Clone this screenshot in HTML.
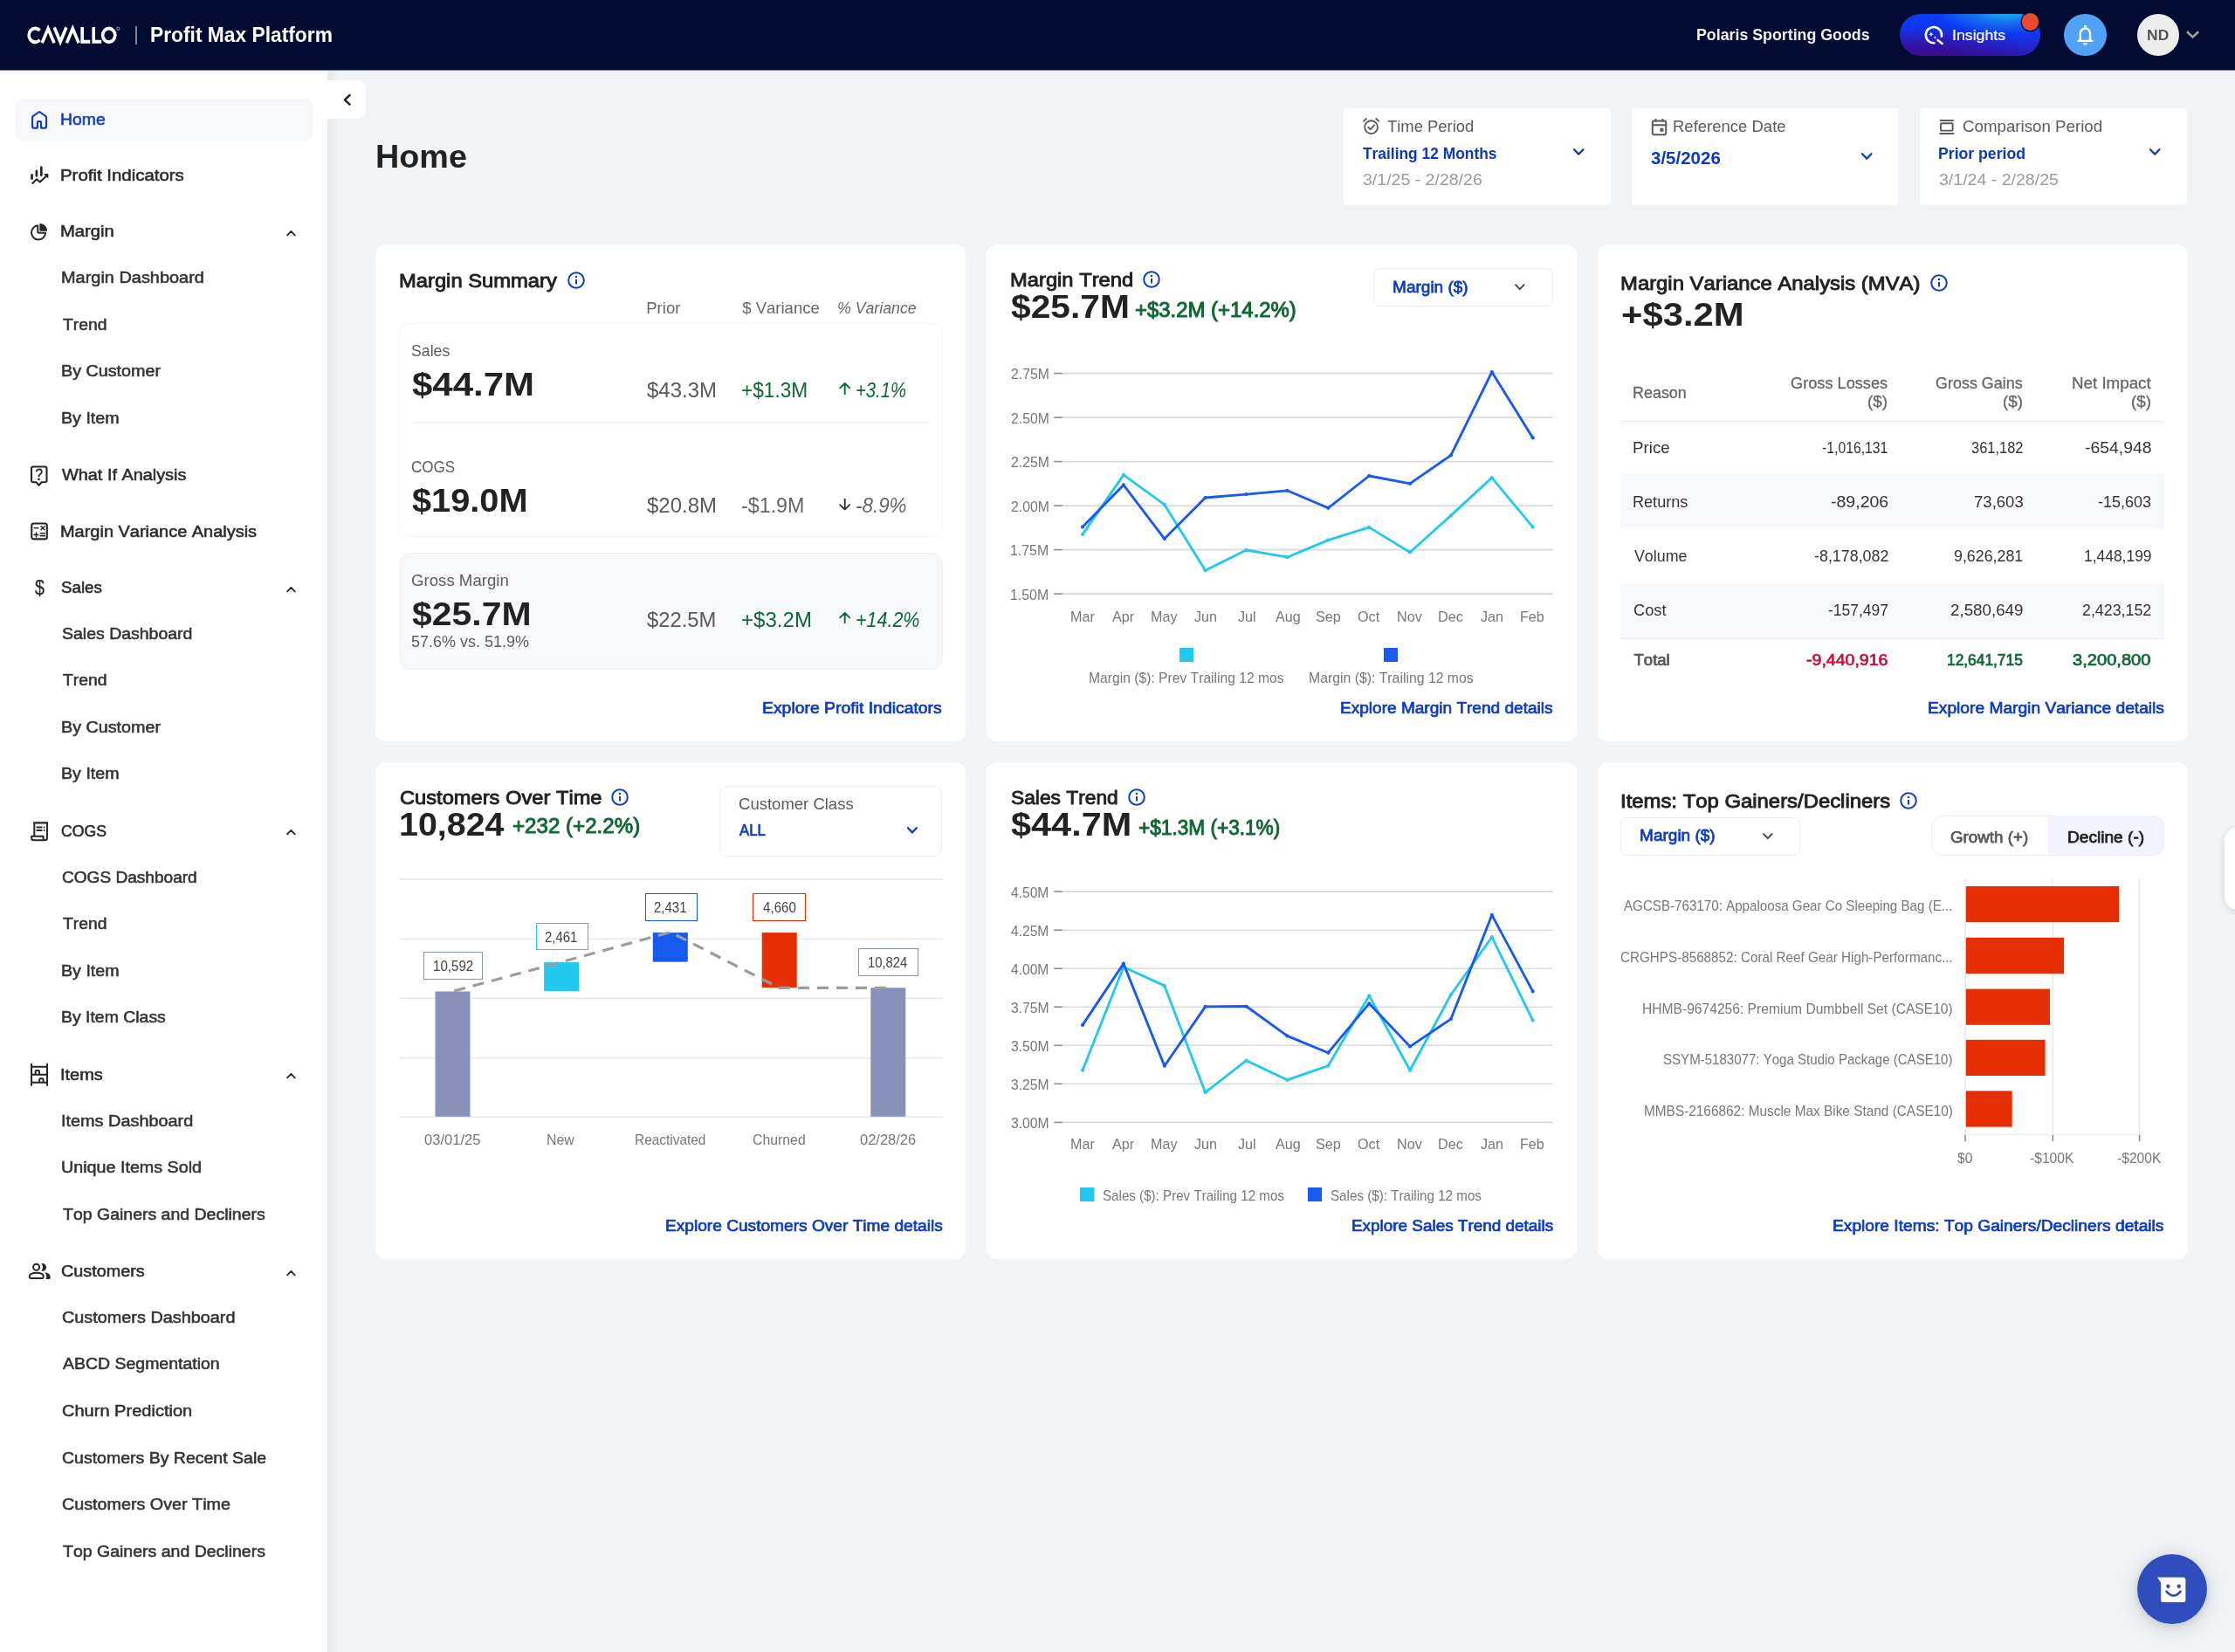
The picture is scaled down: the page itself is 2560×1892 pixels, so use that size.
<!DOCTYPE html>
<html lang="en"><head><meta charset="utf-8"><title>Home - Profit Max Platform</title>
<style>
html,body{margin:0;padding:0;}
body{width:2560px;height:1892px;overflow:hidden;background:#f0f4f7;position:relative;
font-family:"Liberation Sans",sans-serif;font-kerning:none;-webkit-font-smoothing:antialiased;}
.t{position:absolute;white-space:nowrap;margin:0;padding:0;transform-origin:0 50%;}
.b{position:absolute;box-sizing:border-box;display:block;}
.g{position:absolute;left:0;top:0;width:0;height:0;margin:0;padding:0;}
#w{position:absolute;left:0;top:0;width:2560px;height:1892px;will-change:transform;}
</style></head><body><div id="w">
<header class="g" aria-label="Top bar">
<div class="b" style="left:0.00px;top:0.00px;width:2560.00px;height:80.00px;background:#020c33;"></div>
<svg class="b" preserveAspectRatio="none" style="left:31.00px;top:31.30px;overflow:visible;" width="110" height="18.7" viewBox="0 0 110 17"><g fill="none" stroke="#ffffff" stroke-width="3.6" stroke-linecap="butt" stroke-linejoin="miter">
<path d="M14.6 3.6 A7.2 7.2 0 1 0 14.6 13.4"/>
<path d="M17.2 16.6 L24.1 1.6 L31 16.6"/>
<path d="M31.2 0.4 L38.1 15.4 L45 0.4"/>
<path d="M45.4 16.6 L52.3 1.6 L59.2 16.6"/>
<path d="M63.2 0 L63.2 15.2 L72.2 15.2"/>
<path d="M76.2 0 L76.2 15.2 L85.2 15.2"/>
<circle cx="93.7" cy="8.5" r="7.1"/>
</g>
<circle cx="104.3" cy="1.6" r="1.6" fill="none" stroke="#cfd3df" stroke-width="0.7"/></svg>
<div class="b" style="left:155.30px;top:29.50px;width:1.60px;height:21.50px;background:#7b8194;"></div>
<div class="t " style="left:172.20px;top:29.00px;font-size:23.00px;line-height:23.00px;color:#ffffff;transform:scaleX(0.9907);font-weight:700;">Profit Max Platform</div>
<div class="t " style="left:1942.93px;top:31.00px;font-size:18.70px;line-height:18.70px;color:#f2f2f2;transform:scaleX(0.9514);font-weight:700;">Polaris Sporting Goods</div>
<div class="b" style="left:2176.00px;top:16.00px;width:161.00px;height:48.00px;border-radius:24px;background:radial-gradient(ellipse 80px 26px at 122px -3px,#1cc0f0 0%,rgba(26,150,240,0.65) 45%,rgba(20,90,245,0) 100%),radial-gradient(ellipse 130px 44px at 30px 56px,#400a84 0%,rgba(56,12,150,0.8) 45%,rgba(30,30,220,0) 100%),linear-gradient(178deg,#0b3cf6 0%,#0f38f2 50%,#2424c8 85%,#2c1cb4 100%);"></div>
<svg class="b" preserveAspectRatio="none" style="left:2201.00px;top:28.80px;" width="28" height="26" viewBox="0 0 28 26"><g fill="none" stroke="#fff" stroke-width="2.6" stroke-linecap="round">
<path d="M22.9 12.6 A9.1 9.1 0 1 0 14.4 20.2"/>
<path d="M18.6 16.9 L23.7 20.9"/>
</g>
<path fill="#fff" d="M10.9 7.4 L11.7 9.4 L13.7 10.2 L11.7 11 L10.9 13 L10.1 11 L8.1 10.2 L10.1 9.4 Z"/>
<path fill="#fff" d="M15.5 12.3 L16 13.5 L17.2 14 L16 14.5 L15.5 15.7 L15 14.5 L13.8 14 L15 13.5 Z"/></svg>
<div class="t " style="left:2236.17px;top:32.00px;font-size:17.10px;line-height:17.10px;color:#ffffff;transform:scaleX(1.0363);-webkit-text-stroke:0.20px #ffffff;">Insights</div>
<div class="b" style="left:2315.60px;top:15.00px;width:19.60px;height:19.60px;background:#e94a2e;border-radius:10px;box-shadow:0 0 0 1.4px rgba(2,12,51,0.85);"></div>
<div class="b" style="left:2364.00px;top:16.00px;width:48.80px;height:48.00px;background:#4fa2f5;border-radius:24.4px;"></div>
<svg class="b" preserveAspectRatio="none" style="left:2376.00px;top:27.00px;" width="26" height="26" viewBox="0 0 26 26"><g fill="none" stroke="#fff" stroke-width="2.4">
<path d="M6.8 19.9 V11.1 A5.6 5.6 0 0 1 18 11.1 V19.9"/>
<path d="M4.5 19.9 H20.3" stroke-linecap="round"/></g>
<path fill="#fff" d="M11 2.1 h2.8 v2.6 h-2.8z M9.8 22.2 H15 A2.6 2.3 0 0 1 9.8 22.2 Z"/></svg>
<div class="b" style="left:2447.80px;top:16.00px;width:47.90px;height:48.00px;background:#ededed;border-radius:24px;"></div>
<div class="t " style="left:2458.95px;top:32.00px;font-size:16.20px;line-height:16.20px;color:#555555;transform:scaleX(1.0802);font-weight:700;">ND</div>
<svg class="b" preserveAspectRatio="none" style="left:2502.00px;top:32.00px;" width="20" height="14" viewBox="0 0 20 14"><path d="M3 4.2 L9.6 10.4 L16.2 4.2" fill="none" stroke="#9ba1a8" stroke-width="2.6" stroke-linecap="butt" stroke-linejoin="miter"/></svg>
</header>
<nav class="g" aria-label="Sidebar navigation">
<div class="b" style="left:375.00px;top:80.00px;width:14.00px;height:1812.00px;background:linear-gradient(90deg,rgba(0,0,0,0.045),rgba(0,0,0,0));"></div>
<div class="b" style="left:0.00px;top:80.00px;width:375.00px;height:1812.00px;background:#ffffff;"></div>
<div class="b" style="left:16.50px;top:112.50px;width:342.50px;height:48.00px;background:#f7f8fc;border-radius:9px;"></div>
<div class="b" style="left:375.00px;top:92.40px;width:43.80px;height:43.80px;background:#ffffff;border-radius:0 9px 9px 0;"></div>
<svg class="b" preserveAspectRatio="none" style="left:388.00px;top:104.00px;" width="20" height="22" viewBox="0 0 20 22"><path d="M12.6 5.0 L6.9 10.3 L12.6 15.6" fill="none" stroke="#222" stroke-width="2.4" stroke-linecap="round" stroke-linejoin="round"/></svg>
<div class="t " style="left:69.28px;top:128.00px;font-size:18.80px;line-height:18.80px;color:#0f3cc6;transform:scaleX(1.0329);-webkit-text-stroke:0.55px #0f3cc6;">Home</div>
<svg class="b" preserveAspectRatio="none" style="left:34.00px;top:125.00px;" width="28" height="28" viewBox="0 0 28 28"><path d="M8.9 21.6 H4.6 Q3.07 21.6 3.07 20.1 V9.5 Q3.07 8.7 3.7 8.2 L10.2 3.5 Q11.05 2.95 11.9 3.5 L18.4 8.2 Q19.05 8.7 19.05 9.5 V20.1 Q19.05 21.6 17.5 21.6 H13.1 V15.2 Q13.1 14.1 12 14.1 H10 Q8.9 14.1 8.9 15.2 Z" fill="none" stroke="#0f3cc6" stroke-width="2.15" stroke-linejoin="round"/></svg>
<div class="t " style="left:69.20px;top:192.00px;font-size:18.80px;line-height:18.80px;color:#2b2b2b;transform:scaleX(1.0869);-webkit-text-stroke:0.55px #2b2b2b;">Profit Indicators</div>
<svg class="b" preserveAspectRatio="none" style="left:34.00px;top:188.00px;" width="28" height="28" viewBox="0 0 28 28"><g fill="none" stroke="#262626" stroke-linecap="round" stroke-linejoin="round">
<path stroke-width="2.7" d="M2.53 12.3 V16.6 M7.9 7.9 V13.3 M13.3 3.7 V12.7"/>
<path stroke-width="2.05" d="M3.3 22.0 L7.98 17.3 L11.75 20.4 L19.2 13.4"/></g>
<path d="M15.9 11.1 H21.3 V16.5 Z" fill="#262626"/></svg>
<div class="t " style="left:69.21px;top:256.00px;font-size:18.80px;line-height:18.80px;color:#2b2b2b;transform:scaleX(1.0773);-webkit-text-stroke:0.55px #2b2b2b;">Margin</div>
<svg class="b" preserveAspectRatio="none" style="left:34.00px;top:254.00px;" width="28" height="28" viewBox="0 0 28 28"><path d="M9.24 4.25 A8.1 8.1 0 1 0 18.18 12.8" fill="none" stroke="#262626" stroke-width="2"/>
<path d="M9.24 3.5 V11 Q9.24 12.8 11 12.8 H18.9" fill="none" stroke="#262626" stroke-width="2"/>
<path d="M11.4 1.8 A8.9 8.9 0 0 1 20.3 10.7 H11.4 Z" fill="#262626"/></svg>
<svg class="b" preserveAspectRatio="none" style="left:326.00px;top:260.80px;" width="16" height="12" viewBox="0 0 16 12"><path d="M3.1 8.3 L7.4 3.8 L11.7 8.3" fill="none" stroke="#2b2b2b" stroke-width="1.9" stroke-linecap="round" stroke-linejoin="round"/></svg>
<div class="t " style="left:70.34px;top:309.00px;font-size:18.80px;line-height:18.80px;color:#333333;transform:scaleX(1.0608);-webkit-text-stroke:0.55px #333333;">Margin Dashboard</div>
<div class="t " style="left:71.55px;top:363.00px;font-size:18.80px;line-height:18.80px;color:#333333;transform:scaleX(1.0286);-webkit-text-stroke:0.55px #333333;">Trend</div>
<div class="t " style="left:70.35px;top:416.00px;font-size:18.80px;line-height:18.80px;color:#333333;transform:scaleX(1.0509);-webkit-text-stroke:0.55px #333333;">By Customer</div>
<div class="t " style="left:70.36px;top:470.00px;font-size:18.80px;line-height:18.80px;color:#333333;transform:scaleX(1.0457);-webkit-text-stroke:0.55px #333333;">By Item</div>
<div class="t " style="left:70.80px;top:535.00px;font-size:18.80px;line-height:18.80px;color:#2b2b2b;transform:scaleX(1.0576);-webkit-text-stroke:0.55px #2b2b2b;">What If Analysis</div>
<svg class="b" preserveAspectRatio="none" style="left:34.00px;top:532.00px;" width="28" height="28" viewBox="0 0 28 28"><path d="M4 2.55 H17.5 Q19.5 2.55 19.5 4.55 V18.3 Q19.5 20.3 17.5 20.3 H13.6 L10.52 23.7 L7.45 20.3 H4 Q2 20.3 2 18.3 V4.55 Q2 2.55 4 2.55 Z" fill="none" stroke="#262626" stroke-width="2.1" stroke-linejoin="round"/>
<path d="M7.7 7.5 Q8.6 5.4 10.9 5.4 Q13.7 5.5 13.8 8.2 Q13.7 9.9 12.1 11.1 Q10.5 12.3 10.4 13.4" fill="none" stroke="#262626" stroke-width="1.8" stroke-linecap="round"/>
<circle cx="10.5" cy="16.9" r="1.35" fill="#262626"/></svg>
<div class="t " style="left:69.24px;top:600.00px;font-size:18.80px;line-height:18.80px;color:#2b2b2b;transform:scaleX(1.0622);-webkit-text-stroke:0.55px #2b2b2b;">Margin Variance Analysis</div>
<svg class="b" preserveAspectRatio="none" style="left:34.00px;top:597.00px;" width="28" height="28" viewBox="0 0 28 28"><rect x="2.25" y="2.5" width="17.55" height="17.9" rx="2.5" fill="none" stroke="#262626" stroke-width="2.1"/>
<path d="M5.2 7.7 H9.8 M13 5.8 L17 9.8 M17 5.8 L13 9.8 M5 15.4 H10 M7.5 12.9 V17.9 M12.3 13.8 H17.4 M12.3 16.6 H17.4" fill="none" stroke="#262626" stroke-width="1.55" stroke-linecap="round"/></svg>
<div class="t " style="left:70.03px;top:664.00px;font-size:18.80px;line-height:18.80px;color:#2b2b2b;transform:scaleX(0.9966);-webkit-text-stroke:0.55px #2b2b2b;">Sales</div>
<svg class="b" preserveAspectRatio="none" style="left:326.00px;top:668.80px;" width="16" height="12" viewBox="0 0 16 12"><path d="M3.1 8.3 L7.4 3.8 L11.7 8.3" fill="none" stroke="#2b2b2b" stroke-width="1.9" stroke-linecap="round" stroke-linejoin="round"/></svg>
<div class="t " style="left:40.23px;top:661.00px;font-size:24.50px;line-height:24.50px;color:#2b2b2b;transform:scaleX(0.8000);-webkit-text-stroke:0.25px #2b2b2b;">$</div>
<div class="t " style="left:71.10px;top:717.00px;font-size:18.80px;line-height:18.80px;color:#333333;transform:scaleX(1.0371);-webkit-text-stroke:0.55px #333333;">Sales Dashboard</div>
<div class="t " style="left:71.55px;top:770.00px;font-size:18.80px;line-height:18.80px;color:#333333;transform:scaleX(1.0286);-webkit-text-stroke:0.55px #333333;">Trend</div>
<div class="t " style="left:70.35px;top:824.00px;font-size:18.80px;line-height:18.80px;color:#333333;transform:scaleX(1.0509);-webkit-text-stroke:0.55px #333333;">By Customer</div>
<div class="t " style="left:70.36px;top:877.00px;font-size:18.80px;line-height:18.80px;color:#333333;transform:scaleX(1.0457);-webkit-text-stroke:0.55px #333333;">By Item</div>
<div class="t " style="left:69.99px;top:943.00px;font-size:18.80px;line-height:18.80px;color:#2b2b2b;transform:scaleX(0.9398);-webkit-text-stroke:0.55px #2b2b2b;">COGS</div>
<svg class="b" preserveAspectRatio="none" style="left:34.00px;top:939.00px;" width="28" height="28" viewBox="0 0 28 28"><path d="M5.3 18.7 V3.6 H19.95 V20.7 Q19.95 23.2 17.45 23.2 H4.6 Q2.1 23.2 2.1 20.7 V18.7 H15.5 V21 Q15.5 23.2 17.7 23.2" fill="none" stroke="#262626" stroke-width="2" stroke-linejoin="round"/>
<path d="M4.3 4 V2 L5.9 3.1 L7.5 2 L9.2 3.1 L10.9 2 L12.6 3.1 L14.3 2 L16 3.1 L17.7 2 L19.3 3.1 L20.95 2 V4 Z" fill="#262626"/>
<path d="M8.3 8.5 H13.7 M8.3 12 H13.7" stroke="#262626" stroke-width="1.9" stroke-linecap="round" fill="none"/>
<circle cx="16.6" cy="8.5" r="1" fill="#262626"/><circle cx="16.6" cy="12" r="1" fill="#262626"/></svg>
<svg class="b" preserveAspectRatio="none" style="left:326.00px;top:947.30px;" width="16" height="12" viewBox="0 0 16 12"><path d="M3.1 8.3 L7.4 3.8 L11.7 8.3" fill="none" stroke="#2b2b2b" stroke-width="1.9" stroke-linecap="round" stroke-linejoin="round"/></svg>
<div class="t " style="left:71.02px;top:996.00px;font-size:18.80px;line-height:18.80px;color:#333333;transform:scaleX(1.0149);-webkit-text-stroke:0.55px #333333;">COGS Dashboard</div>
<div class="t " style="left:71.55px;top:1049.00px;font-size:18.80px;line-height:18.80px;color:#333333;transform:scaleX(1.0286);-webkit-text-stroke:0.55px #333333;">Trend</div>
<div class="t " style="left:70.36px;top:1103.00px;font-size:18.80px;line-height:18.80px;color:#333333;transform:scaleX(1.0457);-webkit-text-stroke:0.55px #333333;">By Item</div>
<div class="t " style="left:70.38px;top:1156.00px;font-size:18.80px;line-height:18.80px;color:#333333;transform:scaleX(1.0344);-webkit-text-stroke:0.55px #333333;">By Item Class</div>
<div class="t " style="left:69.03px;top:1222.00px;font-size:18.80px;line-height:18.80px;color:#2b2b2b;transform:scaleX(1.0641);-webkit-text-stroke:0.55px #2b2b2b;">Items</div>
<svg class="b" preserveAspectRatio="none" style="left:34.00px;top:1217.00px;" width="28" height="28" viewBox="0 0 28 28"><g fill="none" stroke="#262626" stroke-width="2" stroke-linejoin="round">
<path d="M2.05 1.7 V26 M20 1.7 V26 M2.05 4.74 H20 M2.05 13.87 H20 M2.05 22.7 H20" stroke-linecap="round"/>
<path d="M6.65 13.87 V10.1 Q6.65 9.1 7.65 9.1 H10 Q11 9.1 11 10.1 V13.87 M11.13 22.7 V19.2 Q11.13 18.2 12.13 18.2 H14.6 Q15.6 18.2 15.6 19.2 V22.7"/></g></svg>
<svg class="b" preserveAspectRatio="none" style="left:326.00px;top:1226.00px;" width="16" height="12" viewBox="0 0 16 12"><path d="M3.1 8.3 L7.4 3.8 L11.7 8.3" fill="none" stroke="#2b2b2b" stroke-width="1.9" stroke-linecap="round" stroke-linejoin="round"/></svg>
<div class="t " style="left:70.15px;top:1275.00px;font-size:18.80px;line-height:18.80px;color:#333333;transform:scaleX(1.0573);-webkit-text-stroke:0.55px #333333;">Items Dashboard</div>
<div class="t " style="left:70.46px;top:1328.00px;font-size:18.80px;line-height:18.80px;color:#333333;transform:scaleX(1.0496);-webkit-text-stroke:0.55px #333333;">Unique Items Sold</div>
<div class="t " style="left:71.55px;top:1382.00px;font-size:18.80px;line-height:18.80px;color:#333333;transform:scaleX(1.0374);-webkit-text-stroke:0.55px #333333;">Top Gainers and Decliners</div>
<div class="t " style="left:69.88px;top:1447.00px;font-size:18.80px;line-height:18.80px;color:#2b2b2b;transform:scaleX(1.0546);-webkit-text-stroke:0.55px #2b2b2b;">Customers</div>
<svg class="b" preserveAspectRatio="none" style="left:32.00px;top:1444.00px;" width="28" height="28" viewBox="0 0 28 28"><g fill="none" stroke="#262626" stroke-width="2">
<circle cx="9.62" cy="7.25" r="3.55"/>
<path d="M1.8 17.6 C1.8 15.2 5 13.8 9.75 13.8 C14.5 13.8 17.7 15.2 17.7 17.6 V18.6 Q17.7 20 16.3 20 H3.2 Q1.8 20 1.8 18.6 Z"/></g>
<path d="M15.2 3.1 C18.2 2.4 21 4.6 21 7.4 C21 10.2 18.2 12.4 15.2 11.7 C17.6 9.6 17.6 5.2 15.2 3.1 Z" fill="#262626"/>
<path d="M19.2 13.2 C22.6 13.6 25.6 15.4 25.6 18 V19.4 Q25.6 21 24 21 H20.4 C21.6 19.8 21.8 16 19.2 13.2 Z" fill="#262626"/></svg>
<svg class="b" preserveAspectRatio="none" style="left:326.00px;top:1451.70px;" width="16" height="12" viewBox="0 0 16 12"><path d="M3.1 8.3 L7.4 3.8 L11.7 8.3" fill="none" stroke="#2b2b2b" stroke-width="1.9" stroke-linecap="round" stroke-linejoin="round"/></svg>
<div class="t " style="left:70.98px;top:1500.00px;font-size:18.80px;line-height:18.80px;color:#333333;transform:scaleX(1.0560);-webkit-text-stroke:0.55px #333333;">Customers Dashboard</div>
<div class="t " style="left:71.94px;top:1553.00px;font-size:18.80px;line-height:18.80px;color:#333333;transform:scaleX(1.0367);-webkit-text-stroke:0.55px #333333;">ABCD Segmentation</div>
<div class="t " style="left:70.97px;top:1607.00px;font-size:18.80px;line-height:18.80px;color:#333333;transform:scaleX(1.0665);-webkit-text-stroke:0.55px #333333;">Churn Prediction</div>
<div class="t " style="left:71.00px;top:1661.00px;font-size:18.80px;line-height:18.80px;color:#333333;transform:scaleX(1.0381);-webkit-text-stroke:0.55px #333333;">Customers By Recent Sale</div>
<div class="t " style="left:70.99px;top:1714.00px;font-size:18.80px;line-height:18.80px;color:#333333;transform:scaleX(1.0504);-webkit-text-stroke:0.55px #333333;">Customers Over Time</div>
<div class="t " style="left:71.55px;top:1768.00px;font-size:18.80px;line-height:18.80px;color:#333333;transform:scaleX(1.0383);-webkit-text-stroke:0.55px #333333;">Top Gainers and Decliners</div>
<div class="b" style="left:0.00px;top:80.00px;width:2560.00px;height:1.00px;background:#7b8298;"></div>
</nav>
<main class="g">
<div class="g" aria-label="Page header and filters">
<div class="t " style="left:429.91px;top:161.00px;font-size:37.50px;line-height:37.50px;color:#222222;transform:scaleX(1.0067);font-weight:700;">Home</div>
<div class="b" style="left:1538.90px;top:124.20px;width:306.50px;height:110.80px;background:#ffffff;border-radius:4.5px;"></div>
<div class="b" style="left:1868.70px;top:124.20px;width:306.50px;height:110.80px;background:#ffffff;border-radius:4.5px;"></div>
<div class="b" style="left:2198.60px;top:124.20px;width:306.50px;height:110.80px;background:#ffffff;border-radius:4.5px;"></div>
<svg class="b" preserveAspectRatio="none" style="left:1560.30px;top:134.20px;" width="22" height="21" viewBox="0 0 22 21"><g fill="none" stroke="#5a5a5a" stroke-width="1.9" stroke-linecap="round" stroke-linejoin="round">
<circle cx="10.6" cy="11.6" r="7.4"/><path d="M7.2 11.8 L9.8 14.2 L14.2 9.4"/><path d="M2 4.6 L5 2 M19.2 4.6 L16.2 2"/></g></svg>
<div class="t " style="left:1588.69px;top:136.00px;font-size:18.60px;line-height:18.60px;color:#5a5a5a;transform:scaleX(0.9902);">Time Period</div>
<div class="t " style="left:1561.41px;top:167.00px;font-size:18.60px;line-height:18.60px;color:#0c38c6;transform:scaleX(0.9341);font-weight:700;">Trailing 12 Months</div>
<div class="t " style="left:1560.86px;top:197.00px;font-size:18.80px;line-height:18.80px;color:#9b9b9b;transform:scaleX(1.0394);">3/1/25 - 2/28/26</div>
<svg class="b" preserveAspectRatio="none" style="left:1799.10px;top:167.20px;" width="18.4" height="14" viewBox="0 0 18.4 14"><path d="M4 4.2 L9.2 9.6 L14.4 4.2" fill="none" stroke="#0f3cc6" stroke-width="2.3" stroke-linecap="round" stroke-linejoin="round"/></svg>
<svg class="b" preserveAspectRatio="none" style="left:1891.40px;top:135.20px;" width="20" height="21" viewBox="0 0 20 21"><g fill="none" stroke="#5a5a5a" stroke-width="2" stroke-linejoin="round">
<rect x="1.8" y="3.6" width="15.4" height="15.6" rx="1.4"/><path d="M1.8 8.2 H17.2 M5.6 1 V4.4 M13.4 1 V4.4"/></g><rect x="10.4" y="11.8" width="4" height="4" rx="0.6" fill="#5a5a5a"/></svg>
<div class="t " style="left:1916.38px;top:136.00px;font-size:18.60px;line-height:18.60px;color:#5a5a5a;transform:scaleX(0.9951);">Reference Date</div>
<div class="t " style="left:1890.65px;top:171.00px;font-size:20.00px;line-height:20.00px;color:#0c38c6;transform:scaleX(1.0247);font-weight:700;">3/5/2026</div>
<svg class="b" preserveAspectRatio="none" style="left:2129.00px;top:172.10px;" width="18.4" height="14" viewBox="0 0 18.4 14"><path d="M4 4.2 L9.2 9.6 L14.4 4.2" fill="none" stroke="#0f3cc6" stroke-width="2.3" stroke-linecap="round" stroke-linejoin="round"/></svg>
<svg class="b" preserveAspectRatio="none" style="left:2221.20px;top:136.20px;" width="21" height="20" viewBox="0 0 21 20"><g fill="none" stroke="#5a5a5a" stroke-width="1.9" stroke-linejoin="round">
<rect x="2" y="5.2" width="13.6" height="8.4" rx="0.8"/><path d="M1.6 2 H16 M1.2 17 H16.4" stroke-linecap="round"/></g></svg>
<div class="t " style="left:2247.56px;top:136.00px;font-size:18.60px;line-height:18.60px;color:#5a5a5a;transform:scaleX(1.0065);">Comparison Period</div>
<div class="t " style="left:2220.14px;top:167.00px;font-size:18.60px;line-height:18.60px;color:#0c38c6;transform:scaleX(0.9489);font-weight:700;">Prior period</div>
<div class="t " style="left:2220.56px;top:197.00px;font-size:18.80px;line-height:18.80px;color:#9b9b9b;transform:scaleX(1.0406);">3/1/24 - 2/28/25</div>
<svg class="b" preserveAspectRatio="none" style="left:2458.80px;top:167.20px;" width="18.4" height="14" viewBox="0 0 18.4 14"><path d="M4 4.2 L9.2 9.6 L14.4 4.2" fill="none" stroke="#0f3cc6" stroke-width="2.3" stroke-linecap="round" stroke-linejoin="round"/></svg>
</div>
<section class="g" aria-label="Margin Summary">
<div class="b" style="left:430.00px;top:280.00px;width:676.00px;height:569.00px;background:#ffffff;border-radius:12px;"></div>
<div class="t " style="left:456.79px;top:311.00px;font-size:22.00px;line-height:22.00px;color:#222222;transform:scaleX(1.0796);-webkit-text-stroke:0.88px #222222;">Margin Summary</div>
<svg class="b" preserveAspectRatio="none" style="left:648.70px;top:310.00px;" width="22" height="22" viewBox="0 0 22 22"><circle cx="11" cy="11" r="8.8" fill="none" stroke="#0f3cc6" stroke-width="2"/><rect x="10" y="9.9" width="2" height="5.6" fill="#0f3cc6"/><circle cx="11" cy="7.1" r="1.25" fill="#0f3cc6"/></svg>
<div class="t " style="left:740.28px;top:344.00px;font-size:18.50px;line-height:18.50px;color:#666666;">Prior</div>
<div class="t " style="left:850.31px;top:344.00px;font-size:18.50px;line-height:18.50px;color:#666666;">$ Variance</div>
<div class="t " style="left:958.54px;top:344.00px;font-size:18.50px;line-height:18.50px;color:#666666;transform:scaleX(0.9576);font-style:italic;">% Variance</div>
<div class="b" style="left:457.10px;top:370.30px;width:622.60px;height:245.00px;background:#ffffff;border:1.5px solid #f4f5f9;border-radius:13px;"></div>
<div class="b" style="left:471.00px;top:483.30px;width:593.60px;height:1.40px;background:#f5f6f9;"></div>
<div class="b" style="left:457.10px;top:632.90px;width:622.60px;height:134.40px;background:#f7f8fc;border:1.5px solid #f0f2f8;border-radius:13px;"></div>
<div class="t " style="left:471.40px;top:393.00px;font-size:18.50px;line-height:18.50px;color:#5c5c5c;transform:scaleX(0.9580);">Sales</div>
<div class="t " style="left:471.95px;top:422.00px;font-size:37.50px;line-height:37.50px;color:#222222;transform:scaleX(1.1202);font-weight:700;">$44.7M</div>
<div class="t " style="left:740.96px;top:436.00px;font-size:23.50px;line-height:23.50px;color:#5a5a5a;transform:scaleX(1.0207);">$43.3M</div>
<div class="t " style="left:849.41px;top:436.00px;font-size:23.50px;line-height:23.50px;color:#0f6833;transform:scaleX(0.9647);">+$1.3M</div>
<svg class="b" preserveAspectRatio="none" style="left:960.70px;top:438.40px;" width="13.4" height="13.6" viewBox="0 0 13.4 13.6"><path d="M6.7 13.2 V1.2 M1.2 6.4 L6.7 1 L12.2 6.4" fill="none" stroke="#0f6833" stroke-width="1.9" stroke-linecap="round" stroke-linejoin="round"/></svg>
<div class="t " style="left:979.82px;top:436.00px;font-size:23.50px;line-height:23.50px;color:#0f6833;transform:scaleX(0.8624);font-style:italic;">+3.1%</div>
<div class="t " style="left:471.35px;top:526.00px;font-size:18.50px;line-height:18.50px;color:#5c5c5c;transform:scaleX(0.9199);">COGS</div>
<div class="t " style="left:471.98px;top:555.00px;font-size:37.50px;line-height:37.50px;color:#222222;transform:scaleX(1.0596);font-weight:700;">$19.0M</div>
<div class="t " style="left:740.96px;top:568.00px;font-size:23.50px;line-height:23.50px;color:#5a5a5a;transform:scaleX(1.0207);">$20.8M</div>
<div class="t " style="left:849.48px;top:568.00px;font-size:23.50px;line-height:23.50px;color:#666666;transform:scaleX(0.9903);">-$1.9M</div>
<svg class="b" preserveAspectRatio="none" style="left:960.70px;top:570.50px;" width="13.4" height="13.6" viewBox="0 0 13.4 13.6"><path d="M6.7 0.4 V12.4 M1.2 7.2 L6.7 12.6 L12.2 7.2" fill="none" stroke="#333333" stroke-width="1.9" stroke-linecap="round" stroke-linejoin="round"/></svg>
<div class="t " style="left:979.96px;top:568.00px;font-size:23.50px;line-height:23.50px;color:#666666;transform:scaleX(0.9527);font-style:italic;">-8.9%</div>
<div class="t " style="left:471.27px;top:656.00px;font-size:18.50px;line-height:18.50px;color:#5c5c5c;transform:scaleX(1.0072);">Gross Margin</div>
<div class="t " style="left:471.97px;top:685.00px;font-size:37.50px;line-height:37.50px;color:#222222;transform:scaleX(1.0916);font-weight:700;">$25.7M</div>
<div class="t " style="left:471.48px;top:726.00px;font-size:18.50px;line-height:18.50px;color:#5c5c5c;transform:scaleX(0.9721);">57.6% vs. 51.9%</div>
<div class="t " style="left:740.96px;top:699.00px;font-size:23.50px;line-height:23.50px;color:#5a5a5a;transform:scaleX(1.0128);">$22.5M</div>
<div class="t " style="left:849.35px;top:699.00px;font-size:23.50px;line-height:23.50px;color:#0f6833;transform:scaleX(1.0239);">+$3.2M</div>
<svg class="b" preserveAspectRatio="none" style="left:960.70px;top:700.60px;" width="13.4" height="13.6" viewBox="0 0 13.4 13.6"><path d="M6.7 13.2 V1.2 M1.2 6.4 L6.7 1 L12.2 6.4" fill="none" stroke="#0f6833" stroke-width="1.9" stroke-linecap="round" stroke-linejoin="round"/></svg>
<div class="t " style="left:979.75px;top:699.00px;font-size:23.50px;line-height:23.50px;color:#0f6833;transform:scaleX(0.9142);font-style:italic;">+14.2%</div>
<div class="t " style="left:873.48px;top:802.00px;font-size:18.50px;line-height:18.50px;color:#0f3cc6;transform:scaleX(1.0476);-webkit-text-stroke:0.74px #0f3cc6;">Explore Profit Indicators</div>
</section>
<section class="g" aria-label="Margin Trend">
<div class="b" style="left:1130.00px;top:280.00px;width:676.00px;height:569.00px;background:#ffffff;border-radius:12px;"></div>
<div class="t " style="left:1156.79px;top:310.00px;font-size:22.00px;line-height:22.00px;color:#222222;transform:scaleX(1.0792);-webkit-text-stroke:0.88px #222222;">Margin Trend</div>
<svg class="b" preserveAspectRatio="none" style="left:1307.70px;top:308.50px;" width="22" height="22" viewBox="0 0 22 22"><circle cx="11" cy="11" r="8.8" fill="none" stroke="#0f3cc6" stroke-width="2"/><rect x="10" y="9.9" width="2" height="5.6" fill="#0f3cc6"/><circle cx="11" cy="7.1" r="1.25" fill="#0f3cc6"/></svg>
<div class="t " style="left:1157.77px;top:333.00px;font-size:37.20px;line-height:37.20px;color:#222222;transform:scaleX(1.0954);font-weight:700;">$25.7M</div>
<div class="t " style="left:1300.31px;top:344.00px;font-size:23.00px;line-height:23.00px;color:#0f6833;transform:scaleX(1.0400);-webkit-text-stroke:0.92px #0f6833;">+$3.2M (+14.2%)</div>
<div class="b" style="left:1573.20px;top:306.50px;width:205.60px;height:44.00px;background:#ffffff;border:1.5px solid #eceef2;border-radius:8px;"></div>
<div class="t " style="left:1595.12px;top:319.00px;font-size:19.00px;line-height:19.00px;color:#0f3cc6;-webkit-text-stroke:0.76px #0f3cc6;">Margin ($)</div>
<svg class="b" preserveAspectRatio="none" style="left:1732.40px;top:321.60px;" width="17.6" height="13.6" viewBox="0 0 17.6 13.6"><path d="M4 4.2 L8.8 9.2 L13.6 4.2" fill="none" stroke="#444444" stroke-width="1.9" stroke-linecap="round" stroke-linejoin="round"/></svg>
<svg class="b" style="left:0;top:0" width="2560" height="1892" viewBox="0 0 2560 1892"><path d="M1216.8 427.6 H1778.8" stroke="#d9d9d9" stroke-width="1.6" fill="none"/><path d="M1207.2 427.6 H1216.8" stroke="#8c8c8c" stroke-width="1.6" fill="none"/><path d="M1216.8 478.1 H1778.8" stroke="#d9d9d9" stroke-width="1.6" fill="none"/><path d="M1207.2 478.1 H1216.8" stroke="#8c8c8c" stroke-width="1.6" fill="none"/><path d="M1216.8 528.6 H1778.8" stroke="#d9d9d9" stroke-width="1.6" fill="none"/><path d="M1207.2 528.6 H1216.8" stroke="#8c8c8c" stroke-width="1.6" fill="none"/><path d="M1216.8 579.1 H1778.8" stroke="#d9d9d9" stroke-width="1.6" fill="none"/><path d="M1207.2 579.1 H1216.8" stroke="#8c8c8c" stroke-width="1.6" fill="none"/><path d="M1216.8 629.6 H1778.8" stroke="#d9d9d9" stroke-width="1.6" fill="none"/><path d="M1207.2 629.6 H1216.8" stroke="#8c8c8c" stroke-width="1.6" fill="none"/><path d="M1216.8 680.1 H1778.8" stroke="#d9d9d9" stroke-width="1.6" fill="none"/><path d="M1207.2 680.1 H1216.8" stroke="#8c8c8c" stroke-width="1.6" fill="none"/><path d="M1240.0 612.1 L1286.9 543.9 L1333.8 577.9 L1380.6 653.2 L1427.5 630.0 L1474.4 638.2 L1521.3 618.6 L1568.2 603.9 L1615.0 632.5 L1661.9 590.4 L1708.8 547.1 L1755.7 603.6" fill="none" stroke="#22c9ee" stroke-width="2.85" stroke-linejoin="round" stroke-linecap="round"/><circle cx="1240.0" cy="612.1" r="2.1" fill="#22c9ee"/><circle cx="1286.9" cy="543.9" r="2.1" fill="#22c9ee"/><circle cx="1333.8" cy="577.9" r="2.1" fill="#22c9ee"/><circle cx="1380.6" cy="653.2" r="2.1" fill="#22c9ee"/><circle cx="1427.5" cy="630.0" r="2.1" fill="#22c9ee"/><circle cx="1474.4" cy="638.2" r="2.1" fill="#22c9ee"/><circle cx="1521.3" cy="618.6" r="2.1" fill="#22c9ee"/><circle cx="1568.2" cy="603.9" r="2.1" fill="#22c9ee"/><circle cx="1615.0" cy="632.5" r="2.1" fill="#22c9ee"/><circle cx="1661.9" cy="590.4" r="2.1" fill="#22c9ee"/><circle cx="1708.8" cy="547.1" r="2.1" fill="#22c9ee"/><circle cx="1755.7" cy="603.6" r="2.1" fill="#22c9ee"/><path d="M1240.0 603.6 L1286.9 555.4 L1333.8 617.1 L1380.6 570.0 L1427.5 566.1 L1474.4 561.8 L1521.3 581.8 L1568.2 545.0 L1615.0 553.9 L1661.9 521.4 L1708.8 426.1 L1755.7 501.4" fill="none" stroke="#175af0" stroke-width="2.85" stroke-linejoin="round" stroke-linecap="round"/><circle cx="1240.0" cy="603.6" r="2.1" fill="#175af0"/><circle cx="1286.9" cy="555.4" r="2.1" fill="#175af0"/><circle cx="1333.8" cy="617.1" r="2.1" fill="#175af0"/><circle cx="1380.6" cy="570.0" r="2.1" fill="#175af0"/><circle cx="1427.5" cy="566.1" r="2.1" fill="#175af0"/><circle cx="1474.4" cy="561.8" r="2.1" fill="#175af0"/><circle cx="1521.3" cy="581.8" r="2.1" fill="#175af0"/><circle cx="1568.2" cy="545.0" r="2.1" fill="#175af0"/><circle cx="1615.0" cy="553.9" r="2.1" fill="#175af0"/><circle cx="1661.9" cy="521.4" r="2.1" fill="#175af0"/><circle cx="1708.8" cy="426.1" r="2.1" fill="#175af0"/><circle cx="1755.7" cy="501.4" r="2.1" fill="#175af0"/></svg>
<div class="t " style="left:1157.51px;top:420.00px;font-size:17.00px;line-height:17.00px;color:#777777;transform:scaleX(0.9266);">2.75M</div>
<div class="t " style="left:1157.51px;top:471.00px;font-size:17.00px;line-height:17.00px;color:#777777;transform:scaleX(0.9266);">2.50M</div>
<div class="t " style="left:1157.51px;top:521.00px;font-size:17.00px;line-height:17.00px;color:#777777;transform:scaleX(0.9266);">2.25M</div>
<div class="t " style="left:1157.51px;top:572.00px;font-size:17.00px;line-height:17.00px;color:#777777;transform:scaleX(0.9266);">2.00M</div>
<div class="t " style="left:1157.09px;top:622.00px;font-size:17.00px;line-height:17.00px;color:#777777;transform:scaleX(0.9358);">1.75M</div>
<div class="t " style="left:1157.09px;top:673.00px;font-size:17.00px;line-height:17.00px;color:#777777;transform:scaleX(0.9358);">1.50M</div>
<div class="t " style="left:1225.56px;top:698.00px;font-size:17.00px;line-height:17.00px;color:#777777;transform:scaleX(0.9500);">Mar</div>
<div class="t " style="left:1274.43px;top:698.00px;font-size:17.00px;line-height:17.00px;color:#777777;transform:scaleX(0.9500);">Apr</div>
<div class="t " style="left:1317.86px;top:698.00px;font-size:17.00px;line-height:17.00px;color:#777777;transform:scaleX(0.9500);">May</div>
<div class="t " style="left:1368.02px;top:698.00px;font-size:17.00px;line-height:17.00px;color:#777777;transform:scaleX(0.9500);">Jun</div>
<div class="t " style="left:1417.61px;top:698.00px;font-size:17.00px;line-height:17.00px;color:#777777;transform:scaleX(0.9500);">Jul</div>
<div class="t " style="left:1460.53px;top:698.00px;font-size:17.00px;line-height:17.00px;color:#777777;transform:scaleX(0.9500);">Aug</div>
<div class="t " style="left:1506.88px;top:698.00px;font-size:17.00px;line-height:17.00px;color:#777777;transform:scaleX(0.9500);">Sep</div>
<div class="t " style="left:1555.27px;top:698.00px;font-size:17.00px;line-height:17.00px;color:#777777;transform:scaleX(0.9500);">Oct</div>
<div class="t " style="left:1600.04px;top:698.00px;font-size:17.00px;line-height:17.00px;color:#777777;transform:scaleX(0.9500);">Nov</div>
<div class="t " style="left:1647.11px;top:698.00px;font-size:17.00px;line-height:17.00px;color:#777777;transform:scaleX(0.9500);">Dec</div>
<div class="t " style="left:1696.18px;top:698.00px;font-size:17.00px;line-height:17.00px;color:#777777;transform:scaleX(0.9500);">Jan</div>
<div class="t " style="left:1741.44px;top:698.00px;font-size:17.00px;line-height:17.00px;color:#777777;transform:scaleX(0.9500);">Feb</div>
<div class="b" style="left:1350.70px;top:741.60px;width:16.00px;height:16.00px;background:#22c9ee;"></div>
<div class="b" style="left:1585.40px;top:741.60px;width:16.00px;height:16.00px;background:#175af0;"></div>
<div class="t " style="left:1246.82px;top:768.00px;font-size:17.00px;line-height:17.00px;color:#777777;transform:scaleX(0.9211);">Margin ($): Prev Trailing 12 mos</div>
<div class="t " style="left:1498.91px;top:768.00px;font-size:17.00px;line-height:17.00px;color:#777777;transform:scaleX(0.9288);">Margin ($): Trailing 12 mos</div>
<div class="t " style="left:1535.21px;top:802.00px;font-size:18.50px;line-height:18.50px;color:#0f3cc6;transform:scaleX(1.0296);-webkit-text-stroke:0.74px #0f3cc6;">Explore Margin Trend details</div>
</section>
<section class="g" aria-label="Margin Variance Analysis">
<div class="b" style="left:1830.00px;top:280.00px;width:676.00px;height:569.00px;background:#ffffff;border-radius:12px;"></div>
<div class="t " style="left:1855.88px;top:314.00px;font-size:22.00px;line-height:22.00px;color:#222222;transform:scaleX(1.0846);-webkit-text-stroke:0.88px #222222;">Margin Variance Analysis (MVA)</div>
<svg class="b" preserveAspectRatio="none" style="left:2209.70px;top:313.30px;" width="22" height="22" viewBox="0 0 22 22"><circle cx="11" cy="11" r="8.8" fill="none" stroke="#0f3cc6" stroke-width="2"/><rect x="10" y="9.9" width="2" height="5.6" fill="#0f3cc6"/><circle cx="11" cy="7.1" r="1.25" fill="#0f3cc6"/></svg>
<div class="t " style="left:1857.44px;top:342.00px;font-size:37.50px;line-height:37.50px;color:#222222;transform:scaleX(1.1157);font-weight:700;">+$3.2M</div>
<div class="t " style="left:1870.28px;top:441.00px;font-size:18.00px;line-height:18.00px;color:#666666;transform:scaleX(0.9964);-webkit-text-stroke:0.30px #666666;">Reason</div>
<div class="t " style="left:2051.34px;top:430.00px;font-size:18.00px;line-height:18.00px;color:#666666;transform:scaleX(1.0102);-webkit-text-stroke:0.30px #666666;">Gross Losses</div>
<div class="t " style="left:2139.38px;top:451.00px;font-size:18.00px;line-height:18.00px;color:#666666;transform:scaleX(1.0472);-webkit-text-stroke:0.30px #666666;">($)</div>
<div class="t " style="left:2217.25px;top:430.00px;font-size:18.00px;line-height:18.00px;color:#666666;transform:scaleX(0.9972);-webkit-text-stroke:0.30px #666666;">Gross Gains</div>
<div class="t " style="left:2293.88px;top:451.00px;font-size:18.00px;line-height:18.00px;color:#666666;transform:scaleX(1.0472);-webkit-text-stroke:0.30px #666666;">($)</div>
<div class="t " style="left:2372.61px;top:430.00px;font-size:18.00px;line-height:18.00px;color:#666666;transform:scaleX(1.0418);-webkit-text-stroke:0.30px #666666;">Net Impact</div>
<div class="t " style="left:2440.68px;top:451.00px;font-size:18.00px;line-height:18.00px;color:#666666;transform:scaleX(1.0472);-webkit-text-stroke:0.30px #666666;">($)</div>
<div class="b" style="left:1856.20px;top:481.80px;width:622.60px;height:1.60px;background:#e3e6ee;"></div>
<div class="b" style="left:1856.20px;top:543.10px;width:622.60px;height:63.30px;background:#f7f8fc;"></div>
<div class="b" style="left:1856.20px;top:667.60px;width:622.60px;height:63.30px;background:#f7f8fc;"></div>
<div class="b" style="left:1856.20px;top:730.80px;width:622.60px;height:1.50px;background:#e6e8ef;"></div>
<div class="t " style="left:1870.06px;top:504.00px;font-size:18.50px;line-height:18.50px;color:#333333;transform:scaleX(1.0122);">Price</div>
<div class="t " style="left:2087.41px;top:504.00px;font-size:18.50px;line-height:18.50px;color:#333333;transform:scaleX(0.8518);">-1,016,131</div>
<div class="t " style="left:2257.88px;top:504.00px;font-size:18.50px;line-height:18.50px;color:#333333;transform:scaleX(0.8890);">361,182</div>
<div class="t " style="left:2387.55px;top:504.00px;font-size:18.50px;line-height:18.50px;color:#333333;transform:scaleX(1.0487);">-654,948</div>
<div class="t " style="left:1870.12px;top:566.00px;font-size:18.50px;line-height:18.50px;color:#333333;transform:scaleX(0.9777);">Returns</div>
<div class="t " style="left:2096.64px;top:566.00px;font-size:18.50px;line-height:18.50px;color:#333333;transform:scaleX(1.0551);">-89,206</div>
<div class="t " style="left:2260.55px;top:566.00px;font-size:18.50px;line-height:18.50px;color:#333333;transform:scaleX(1.0029);">73,603</div>
<div class="t " style="left:2403.01px;top:566.00px;font-size:18.50px;line-height:18.50px;color:#333333;transform:scaleX(0.9733);">-15,603</div>
<div class="t " style="left:1871.53px;top:628.00px;font-size:18.50px;line-height:18.50px;color:#333333;transform:scaleX(0.9622);">Volume</div>
<div class="t " style="left:2077.51px;top:628.00px;font-size:18.50px;line-height:18.50px;color:#333333;transform:scaleX(0.9652);">-8,178,082</div>
<div class="t " style="left:2238.18px;top:628.00px;font-size:18.50px;line-height:18.50px;color:#333333;transform:scaleX(0.9620);">9,626,281</div>
<div class="t " style="left:2386.58px;top:628.00px;font-size:18.50px;line-height:18.50px;color:#333333;transform:scaleX(0.9422);">1,448,199</div>
<div class="t " style="left:1870.69px;top:690.00px;font-size:18.50px;line-height:18.50px;color:#333333;transform:scaleX(0.9841);">Cost</div>
<div class="t " style="left:2093.83px;top:690.00px;font-size:18.50px;line-height:18.50px;color:#333333;transform:scaleX(0.9454);">-157,497</div>
<div class="t " style="left:2233.96px;top:690.00px;font-size:18.50px;line-height:18.50px;color:#333333;transform:scaleX(1.0136);">2,580,649</div>
<div class="t " style="left:2384.91px;top:690.00px;font-size:18.50px;line-height:18.50px;color:#333333;transform:scaleX(0.9633);">2,423,152</div>
<div class="t " style="left:1871.56px;top:747.00px;font-size:18.50px;line-height:18.50px;color:#555555;-webkit-text-stroke:0.74px #555555;">Total</div>
<div class="t " style="left:2069.01px;top:747.00px;font-size:18.50px;line-height:18.50px;color:#c5133f;transform:scaleX(1.0565);-webkit-text-stroke:0.74px #c5133f;">-9,440,916</div>
<div class="t " style="left:2230.05px;top:747.00px;font-size:18.50px;line-height:18.50px;color:#0f6833;transform:scaleX(0.9374);-webkit-text-stroke:0.74px #0f6833;">12,641,715</div>
<div class="t " style="left:2374.21px;top:747.00px;font-size:18.50px;line-height:18.50px;color:#0f6833;transform:scaleX(1.0874);-webkit-text-stroke:0.74px #0f6833;">3,200,800</div>
<div class="t " style="left:2207.70px;top:802.00px;font-size:18.50px;line-height:18.50px;color:#0f3cc6;transform:scaleX(1.0373);-webkit-text-stroke:0.74px #0f3cc6;">Explore Margin Variance details</div>
</section>
<section class="g" aria-label="Customers Over Time">
<div class="b" style="left:430.00px;top:873.00px;width:676.00px;height:569.00px;background:#ffffff;border-radius:12px;"></div>
<div class="t " style="left:457.56px;top:903.00px;font-size:22.00px;line-height:22.00px;color:#222222;transform:scaleX(1.0762);-webkit-text-stroke:0.88px #222222;">Customers Over Time</div>
<svg class="b" preserveAspectRatio="none" style="left:698.60px;top:901.80px;" width="22" height="22" viewBox="0 0 22 22"><circle cx="11" cy="11" r="8.8" fill="none" stroke="#0f3cc6" stroke-width="2"/><rect x="10" y="9.9" width="2" height="5.6" fill="#0f3cc6"/><circle cx="11" cy="7.1" r="1.25" fill="#0f3cc6"/></svg>
<div class="t " style="left:456.86px;top:926.00px;font-size:37.20px;line-height:37.20px;color:#222222;transform:scaleX(1.0595);font-weight:700;">10,824</div>
<div class="t " style="left:586.70px;top:935.00px;font-size:23.00px;line-height:23.00px;color:#0f6833;transform:scaleX(1.0493);-webkit-text-stroke:0.92px #0f6833;">+232 (+2.2%)</div>
<div class="b" style="left:823.60px;top:899.50px;width:255.80px;height:81.00px;background:#ffffff;border:1.5px solid #eceef2;border-radius:9px;"></div>
<div class="t " style="left:846.07px;top:912.00px;font-size:18.50px;line-height:18.50px;color:#5a5a5a;">Customer Class</div>
<div class="t " style="left:847.34px;top:942.00px;font-size:18.50px;line-height:18.50px;color:#0f3cc6;transform:scaleX(0.9037);-webkit-text-stroke:0.74px #0f3cc6;">ALL</div>
<svg class="b" preserveAspectRatio="none" style="left:1036.20px;top:943.50px;" width="17.8" height="13.8" viewBox="0 0 17.8 13.8"><path d="M4 4.2 L8.9 9.4 L13.8 4.2" fill="none" stroke="#0f3cc6" stroke-width="2.3" stroke-linecap="round" stroke-linejoin="round"/></svg>
<svg class="b" style="left:0;top:0" width="2560" height="1892" viewBox="0 0 2560 1892"><path d="M457 1007.1 H1079.4" stroke="#e9e9ec" stroke-width="1.6" fill="none"/><path d="M457 1075.3 H1079.4" stroke="#e9e9ec" stroke-width="1.6" fill="none"/><path d="M457 1143.4 H1079.4" stroke="#e9e9ec" stroke-width="1.6" fill="none"/><path d="M457 1211.7 H1079.4" stroke="#e9e9ec" stroke-width="1.6" fill="none"/><path d="M457 1279.3 H1079.4" stroke="#e9e9ec" stroke-width="1.6" fill="none"/><rect x="498.5" y="1135.5" width="40" height="143.3" fill="#8690b8"/><rect x="623.1" y="1102.1" width="40" height="32.9" fill="#22c9ee"/><rect x="747.8" y="1068.1" width="40" height="33.5" fill="#175af0"/><rect x="872.7" y="1068.1" width="40" height="63.0" fill="#e52e03"/><rect x="997.3" y="1131.3" width="40" height="147.5" fill="#8690b8"/><path d="M518.4 1135.4 L643.1 1101.8 L767.9 1067.6 L892.6 1131.4 L1017.2 1131.4" fill="none" stroke="#9c9c9c" stroke-width="3.2" stroke-dasharray="13 9" stroke-dashoffset="-2"/></svg>
<div class="b" style="left:485.20px;top:1090.00px;width:67.80px;height:31.60px;background:#ffffff;border:1.7px solid #8690b8;"></div>
<div class="t " style="left:496.15px;top:1099.00px;font-size:16.60px;line-height:16.60px;color:#444444;transform:scaleX(0.9121);">10,592</div>
<div class="b" style="left:614.00px;top:1056.60px;width:59.90px;height:31.60px;background:#ffffff;border:1.7px solid #22c9ee;"></div>
<div class="t " style="left:624.46px;top:1066.00px;font-size:16.60px;line-height:16.60px;color:#444444;transform:scaleX(0.8970);">2,461</div>
<div class="b" style="left:738.60px;top:1023.00px;width:60.20px;height:31.60px;background:#ffffff;border:1.7px solid #175af0;"></div>
<div class="t " style="left:749.05px;top:1032.00px;font-size:16.60px;line-height:16.60px;color:#444444;transform:scaleX(0.9045);">2,431</div>
<div class="b" style="left:861.70px;top:1023.00px;width:61.80px;height:31.60px;background:#ffffff;border:1.7px solid #e52e03;"></div>
<div class="t " style="left:874.07px;top:1032.00px;font-size:16.60px;line-height:16.60px;color:#444444;transform:scaleX(0.9126);">4,660</div>
<div class="b" style="left:982.80px;top:1086.00px;width:68.80px;height:31.60px;background:#ffffff;border:1.7px solid #8690b8;"></div>
<div class="t " style="left:994.07px;top:1095.00px;font-size:16.60px;line-height:16.60px;color:#444444;transform:scaleX(0.8934);">10,824</div>
<div class="t " style="left:486.05px;top:1297.00px;font-size:17.00px;line-height:17.00px;color:#777777;transform:scaleX(0.9751);">03/01/25</div>
<div class="t " style="left:626.40px;top:1297.00px;font-size:17.00px;line-height:17.00px;color:#777777;transform:scaleX(0.9307);">New</div>
<div class="t " style="left:727.24px;top:1297.00px;font-size:17.00px;line-height:17.00px;color:#777777;transform:scaleX(0.9073);">Reactivated</div>
<div class="t " style="left:862.31px;top:1297.00px;font-size:17.00px;line-height:17.00px;color:#777777;transform:scaleX(0.9309);">Churned</div>
<div class="t " style="left:985.36px;top:1297.00px;font-size:17.00px;line-height:17.00px;color:#777777;transform:scaleX(0.9695);">02/28/26</div>
<div class="t " style="left:761.50px;top:1395.00px;font-size:18.50px;line-height:18.50px;color:#0f3cc6;transform:scaleX(1.0336);-webkit-text-stroke:0.74px #0f3cc6;">Explore Customers Over Time details</div>
</section>
<section class="g" aria-label="Sales Trend">
<div class="b" style="left:1130.00px;top:873.00px;width:676.00px;height:569.00px;background:#ffffff;border-radius:12px;"></div>
<div class="t " style="left:1157.72px;top:903.00px;font-size:22.00px;line-height:22.00px;color:#222222;transform:scaleX(1.0345);-webkit-text-stroke:0.88px #222222;">Sales Trend</div>
<svg class="b" preserveAspectRatio="none" style="left:1291.30px;top:901.70px;" width="22" height="22" viewBox="0 0 22 22"><circle cx="11" cy="11" r="8.8" fill="none" stroke="#0f3cc6" stroke-width="2"/><rect x="10" y="9.9" width="2" height="5.6" fill="#0f3cc6"/><circle cx="11" cy="7.1" r="1.25" fill="#0f3cc6"/></svg>
<div class="t " style="left:1157.76px;top:926.00px;font-size:37.20px;line-height:37.20px;color:#222222;transform:scaleX(1.1144);font-weight:700;">$44.7M</div>
<div class="t " style="left:1304.37px;top:937.00px;font-size:23.00px;line-height:23.00px;color:#0f6833;transform:scaleX(0.9839);-webkit-text-stroke:0.92px #0f6833;">+$1.3M (+3.1%)</div>
<svg class="b" style="left:0;top:0" width="2560" height="1892" viewBox="0 0 2560 1892"><path d="M1216.8 1021.1 H1778.8" stroke="#d9d9d9" stroke-width="1.6" fill="none"/><path d="M1207.2 1021.1 H1216.8" stroke="#8c8c8c" stroke-width="1.6" fill="none"/><path d="M1216.8 1065.2 H1778.8" stroke="#d9d9d9" stroke-width="1.6" fill="none"/><path d="M1207.2 1065.2 H1216.8" stroke="#8c8c8c" stroke-width="1.6" fill="none"/><path d="M1216.8 1109.2 H1778.8" stroke="#d9d9d9" stroke-width="1.6" fill="none"/><path d="M1207.2 1109.2 H1216.8" stroke="#8c8c8c" stroke-width="1.6" fill="none"/><path d="M1216.8 1153.2 H1778.8" stroke="#d9d9d9" stroke-width="1.6" fill="none"/><path d="M1207.2 1153.2 H1216.8" stroke="#8c8c8c" stroke-width="1.6" fill="none"/><path d="M1216.8 1197.3 H1778.8" stroke="#d9d9d9" stroke-width="1.6" fill="none"/><path d="M1207.2 1197.3 H1216.8" stroke="#8c8c8c" stroke-width="1.6" fill="none"/><path d="M1216.8 1241.3 H1778.8" stroke="#d9d9d9" stroke-width="1.6" fill="none"/><path d="M1207.2 1241.3 H1216.8" stroke="#8c8c8c" stroke-width="1.6" fill="none"/><path d="M1216.8 1285.4 H1778.8" stroke="#d9d9d9" stroke-width="1.6" fill="none"/><path d="M1207.2 1285.4 H1216.8" stroke="#8c8c8c" stroke-width="1.6" fill="none"/><path d="M1240.0 1225.7 L1286.9 1107.5 L1333.8 1128.9 L1380.6 1251.1 L1427.5 1214.6 L1474.4 1236.8 L1521.3 1220.7 L1568.2 1140.4 L1615.0 1225.7 L1661.9 1139.3 L1708.8 1073.2 L1755.7 1168.6" fill="none" stroke="#22c9ee" stroke-width="2.85" stroke-linejoin="round" stroke-linecap="round"/><circle cx="1240.0" cy="1225.7" r="2.1" fill="#22c9ee"/><circle cx="1286.9" cy="1107.5" r="2.1" fill="#22c9ee"/><circle cx="1333.8" cy="1128.9" r="2.1" fill="#22c9ee"/><circle cx="1380.6" cy="1251.1" r="2.1" fill="#22c9ee"/><circle cx="1427.5" cy="1214.6" r="2.1" fill="#22c9ee"/><circle cx="1474.4" cy="1236.8" r="2.1" fill="#22c9ee"/><circle cx="1521.3" cy="1220.7" r="2.1" fill="#22c9ee"/><circle cx="1568.2" cy="1140.4" r="2.1" fill="#22c9ee"/><circle cx="1615.0" cy="1225.7" r="2.1" fill="#22c9ee"/><circle cx="1661.9" cy="1139.3" r="2.1" fill="#22c9ee"/><circle cx="1708.8" cy="1073.2" r="2.1" fill="#22c9ee"/><circle cx="1755.7" cy="1168.6" r="2.1" fill="#22c9ee"/><path d="M1240.0 1173.9 L1286.9 1103.6 L1333.8 1220.7 L1380.6 1152.9 L1427.5 1152.5 L1474.4 1186.4 L1521.3 1205.7 L1568.2 1149.3 L1615.0 1198.6 L1661.9 1167.1 L1708.8 1047.9 L1755.7 1135.4" fill="none" stroke="#175af0" stroke-width="2.85" stroke-linejoin="round" stroke-linecap="round"/><circle cx="1240.0" cy="1173.9" r="2.1" fill="#175af0"/><circle cx="1286.9" cy="1103.6" r="2.1" fill="#175af0"/><circle cx="1333.8" cy="1220.7" r="2.1" fill="#175af0"/><circle cx="1380.6" cy="1152.9" r="2.1" fill="#175af0"/><circle cx="1427.5" cy="1152.5" r="2.1" fill="#175af0"/><circle cx="1474.4" cy="1186.4" r="2.1" fill="#175af0"/><circle cx="1521.3" cy="1205.7" r="2.1" fill="#175af0"/><circle cx="1568.2" cy="1149.3" r="2.1" fill="#175af0"/><circle cx="1615.0" cy="1198.6" r="2.1" fill="#175af0"/><circle cx="1661.9" cy="1167.1" r="2.1" fill="#175af0"/><circle cx="1708.8" cy="1047.9" r="2.1" fill="#175af0"/><circle cx="1755.7" cy="1135.4" r="2.1" fill="#175af0"/></svg>
<div class="t " style="left:1157.96px;top:1014.00px;font-size:17.00px;line-height:17.00px;color:#777777;transform:scaleX(0.9169);">4.50M</div>
<div class="t " style="left:1157.96px;top:1058.00px;font-size:17.00px;line-height:17.00px;color:#777777;transform:scaleX(0.9169);">4.25M</div>
<div class="t " style="left:1157.96px;top:1102.00px;font-size:17.00px;line-height:17.00px;color:#777777;transform:scaleX(0.9169);">4.00M</div>
<div class="t " style="left:1157.70px;top:1146.00px;font-size:17.00px;line-height:17.00px;color:#777777;transform:scaleX(0.9224);">3.75M</div>
<div class="t " style="left:1157.70px;top:1190.00px;font-size:17.00px;line-height:17.00px;color:#777777;transform:scaleX(0.9224);">3.50M</div>
<div class="t " style="left:1157.70px;top:1234.00px;font-size:17.00px;line-height:17.00px;color:#777777;transform:scaleX(0.9224);">3.25M</div>
<div class="t " style="left:1157.70px;top:1278.00px;font-size:17.00px;line-height:17.00px;color:#777777;transform:scaleX(0.9224);">3.00M</div>
<div class="t " style="left:1225.56px;top:1302.00px;font-size:17.00px;line-height:17.00px;color:#777777;transform:scaleX(0.9500);">Mar</div>
<div class="t " style="left:1274.43px;top:1302.00px;font-size:17.00px;line-height:17.00px;color:#777777;transform:scaleX(0.9500);">Apr</div>
<div class="t " style="left:1317.86px;top:1302.00px;font-size:17.00px;line-height:17.00px;color:#777777;transform:scaleX(0.9500);">May</div>
<div class="t " style="left:1368.02px;top:1302.00px;font-size:17.00px;line-height:17.00px;color:#777777;transform:scaleX(0.9500);">Jun</div>
<div class="t " style="left:1417.61px;top:1302.00px;font-size:17.00px;line-height:17.00px;color:#777777;transform:scaleX(0.9500);">Jul</div>
<div class="t " style="left:1460.53px;top:1302.00px;font-size:17.00px;line-height:17.00px;color:#777777;transform:scaleX(0.9500);">Aug</div>
<div class="t " style="left:1506.88px;top:1302.00px;font-size:17.00px;line-height:17.00px;color:#777777;transform:scaleX(0.9500);">Sep</div>
<div class="t " style="left:1555.27px;top:1302.00px;font-size:17.00px;line-height:17.00px;color:#777777;transform:scaleX(0.9500);">Oct</div>
<div class="t " style="left:1600.04px;top:1302.00px;font-size:17.00px;line-height:17.00px;color:#777777;transform:scaleX(0.9500);">Nov</div>
<div class="t " style="left:1647.11px;top:1302.00px;font-size:17.00px;line-height:17.00px;color:#777777;transform:scaleX(0.9500);">Dec</div>
<div class="t " style="left:1696.18px;top:1302.00px;font-size:17.00px;line-height:17.00px;color:#777777;transform:scaleX(0.9500);">Jan</div>
<div class="t " style="left:1741.44px;top:1302.00px;font-size:17.00px;line-height:17.00px;color:#777777;transform:scaleX(0.9500);">Feb</div>
<div class="b" style="left:1237.10px;top:1360.00px;width:16.00px;height:16.00px;background:#22c9ee;"></div>
<div class="b" style="left:1498.20px;top:1360.00px;width:16.00px;height:16.00px;background:#175af0;"></div>
<div class="t " style="left:1262.82px;top:1361.00px;font-size:17.00px;line-height:17.00px;color:#777777;transform:scaleX(0.8910);">Sales ($): Prev Trailing 12 mos</div>
<div class="t " style="left:1524.22px;top:1361.00px;font-size:17.00px;line-height:17.00px;color:#777777;transform:scaleX(0.8928);">Sales ($): Trailing 12 mos</div>
<div class="t " style="left:1547.62px;top:1395.00px;font-size:18.50px;line-height:18.50px;color:#0f3cc6;transform:scaleX(1.0215);-webkit-text-stroke:0.74px #0f3cc6;">Explore Sales Trend details</div>
</section>
<section class="g" aria-label="Items: Top Gainers/Decliners">
<div class="b" style="left:1830.00px;top:873.00px;width:676.00px;height:569.00px;background:#ffffff;border-radius:12px;"></div>
<div class="t " style="left:1855.64px;top:907.00px;font-size:22.00px;line-height:22.00px;color:#222222;transform:scaleX(1.0853);-webkit-text-stroke:0.88px #222222;">Items: Top Gainers/Decliners</div>
<svg class="b" preserveAspectRatio="none" style="left:2174.50px;top:905.60px;" width="22" height="22" viewBox="0 0 22 22"><circle cx="11" cy="11" r="8.8" fill="none" stroke="#0f3cc6" stroke-width="2"/><rect x="10" y="9.9" width="2" height="5.6" fill="#0f3cc6"/><circle cx="11" cy="7.1" r="1.25" fill="#0f3cc6"/></svg>
<div class="b" style="left:1856.20px;top:936.10px;width:205.90px;height:43.60px;background:#ffffff;border:1.5px solid #eceef2;border-radius:8px;"></div>
<div class="t " style="left:1878.12px;top:947.00px;font-size:19.00px;line-height:19.00px;color:#0f3cc6;-webkit-text-stroke:0.76px #0f3cc6;">Margin ($)</div>
<svg class="b" preserveAspectRatio="none" style="left:2015.70px;top:950.60px;" width="17.6" height="13.6" viewBox="0 0 17.6 13.6"><path d="M4 4.2 L8.8 9.2 L13.6 4.2" fill="none" stroke="#444444" stroke-width="1.9" stroke-linecap="round" stroke-linejoin="round"/></svg>
<div class="b" style="left:2211.50px;top:934.30px;width:267.30px;height:46.10px;background:#ffffff;border:1.5px solid #eceef2;border-radius:13px;"></div>
<div class="b" style="left:2345.60px;top:934.30px;width:133.20px;height:46.10px;background:#f1f4fc;border:1.5px solid #eceef6;border-radius:0 13px 13px 0;border-left:none;"></div>
<div class="t " style="left:2234.34px;top:949.00px;font-size:19.00px;line-height:19.00px;color:#585858;transform:scaleX(0.9876);-webkit-text-stroke:0.75px #585858;">Growth (+)</div>
<div class="t " style="left:2368.01px;top:949.00px;font-size:19.00px;line-height:19.00px;color:#222222;transform:scaleX(1.0054);-webkit-text-stroke:0.75px #222222;">Decline (-)</div>
<svg class="b" style="left:0;top:0" width="2560" height="1892" viewBox="0 0 2560 1892"><path d="M2251.1 1006.6 V1299.3" stroke="#e9e9ec" stroke-width="1.5" fill="none"/><path d="M2251.1 1299.3 V1307.2" stroke="#8a8a8a" stroke-width="1.6" fill="none"/><path d="M2351.3 1006.6 V1299.3" stroke="#e9e9ec" stroke-width="1.5" fill="none"/><path d="M2351.3 1299.3 V1307.2" stroke="#8a8a8a" stroke-width="1.6" fill="none"/><path d="M2450.6 1006.6 V1299.3" stroke="#e9e9ec" stroke-width="1.5" fill="none"/><path d="M2450.6 1299.3 V1307.2" stroke="#8a8a8a" stroke-width="1.6" fill="none"/><path d="M2251.1 1299.3 H2450.6" stroke="#ededf0" stroke-width="1.2" fill="none"/><rect x="2251.8" y="1015.0" width="175.3" height="41.2" fill="#e52e03"/><rect x="2251.8" y="1073.8" width="112.3" height="41.2" fill="#e52e03"/><rect x="2251.8" y="1132.6" width="96.2" height="41.2" fill="#e52e03"/><rect x="2251.8" y="1190.8" width="90.8" height="41.2" fill="#e52e03"/><rect x="2251.8" y="1249.4" width="52.9" height="41.2" fill="#e52e03"/></svg>
<div class="t " style="left:1860.37px;top:1030.00px;font-size:16.60px;line-height:16.60px;color:#777777;transform:scaleX(0.9130);">AGCSB-763170: Appaloosa Gear Co Sleeping Bag (E...</div>
<div class="t " style="left:1856.04px;top:1089.00px;font-size:16.60px;line-height:16.60px;color:#777777;transform:scaleX(0.9176);">CRGHPS-8568852: Coral Reef Gear High-Performanc...</div>
<div class="t " style="left:1880.72px;top:1148.00px;font-size:16.60px;line-height:16.60px;color:#777777;transform:scaleX(0.9408);">HHMB-9674256: Premium Dumbbell Set (CASE10)</div>
<div class="t " style="left:1904.92px;top:1206.00px;font-size:16.60px;line-height:16.60px;color:#777777;transform:scaleX(0.9075);">SSYM-5183077: Yoga Studio Package (CASE10)</div>
<div class="t " style="left:1882.54px;top:1265.00px;font-size:16.60px;line-height:16.60px;color:#777777;transform:scaleX(0.9268);">MMBS-2166862: Muscle Max Bike Stand (CASE10)</div>
<div class="t " style="left:2241.52px;top:1318.00px;font-size:17.00px;line-height:17.00px;color:#777777;transform:scaleX(0.9200);">$0</div>
<div class="t " style="left:2324.93px;top:1318.00px;font-size:17.00px;line-height:17.00px;color:#777777;transform:scaleX(0.9200);">-$100K</div>
<div class="t " style="left:2425.23px;top:1318.00px;font-size:17.00px;line-height:17.00px;color:#777777;transform:scaleX(0.9200);">-$200K</div>
<div class="t " style="left:2099.00px;top:1395.00px;font-size:18.50px;line-height:18.50px;color:#0f3cc6;transform:scaleX(1.0366);-webkit-text-stroke:0.74px #0f3cc6;">Explore Items: Top Gainers/Decliners details</div>
</section>
</main>
<div class="g" aria-label="Floating widgets">
<div class="b" style="left:2547.60px;top:948.40px;width:40.00px;height:93.40px;background:#ffffff;border-radius:15px;box-shadow:0 2px 10px rgba(0,0,0,0.12);"></div>
<div class="b" style="left:2447.50px;top:1780.00px;width:80.00px;height:80.00px;background:#304dbd;border-radius:40px;box-shadow:0 4px 28px rgba(0,0,0,0.16),0 2px 8px rgba(0,0,0,0.10);"></div>
<svg class="b" preserveAspectRatio="none" style="left:2470.00px;top:1804.80px;" width="37.1" height="33" viewBox="0 0 36 32"><path d="M1 1.4 H29.8 A2.6 2.6 0 0 1 32.4 4 V26.6 A2.6 2.6 0 0 1 29.8 29.2 H7.6 A2.6 2.6 0 0 1 5 26.6 V7.2 Z" fill="#ffffff"/><circle cx="13" cy="11.4" r="2.1" fill="#304dbd"/><circle cx="25" cy="11.4" r="2.1" fill="#304dbd"/><path d="M11.2 17.2 Q19 26.4 26.8 17.2" fill="none" stroke="#304dbd" stroke-width="2.6" stroke-linecap="round"/></svg>
</div>
</div></body></html>
